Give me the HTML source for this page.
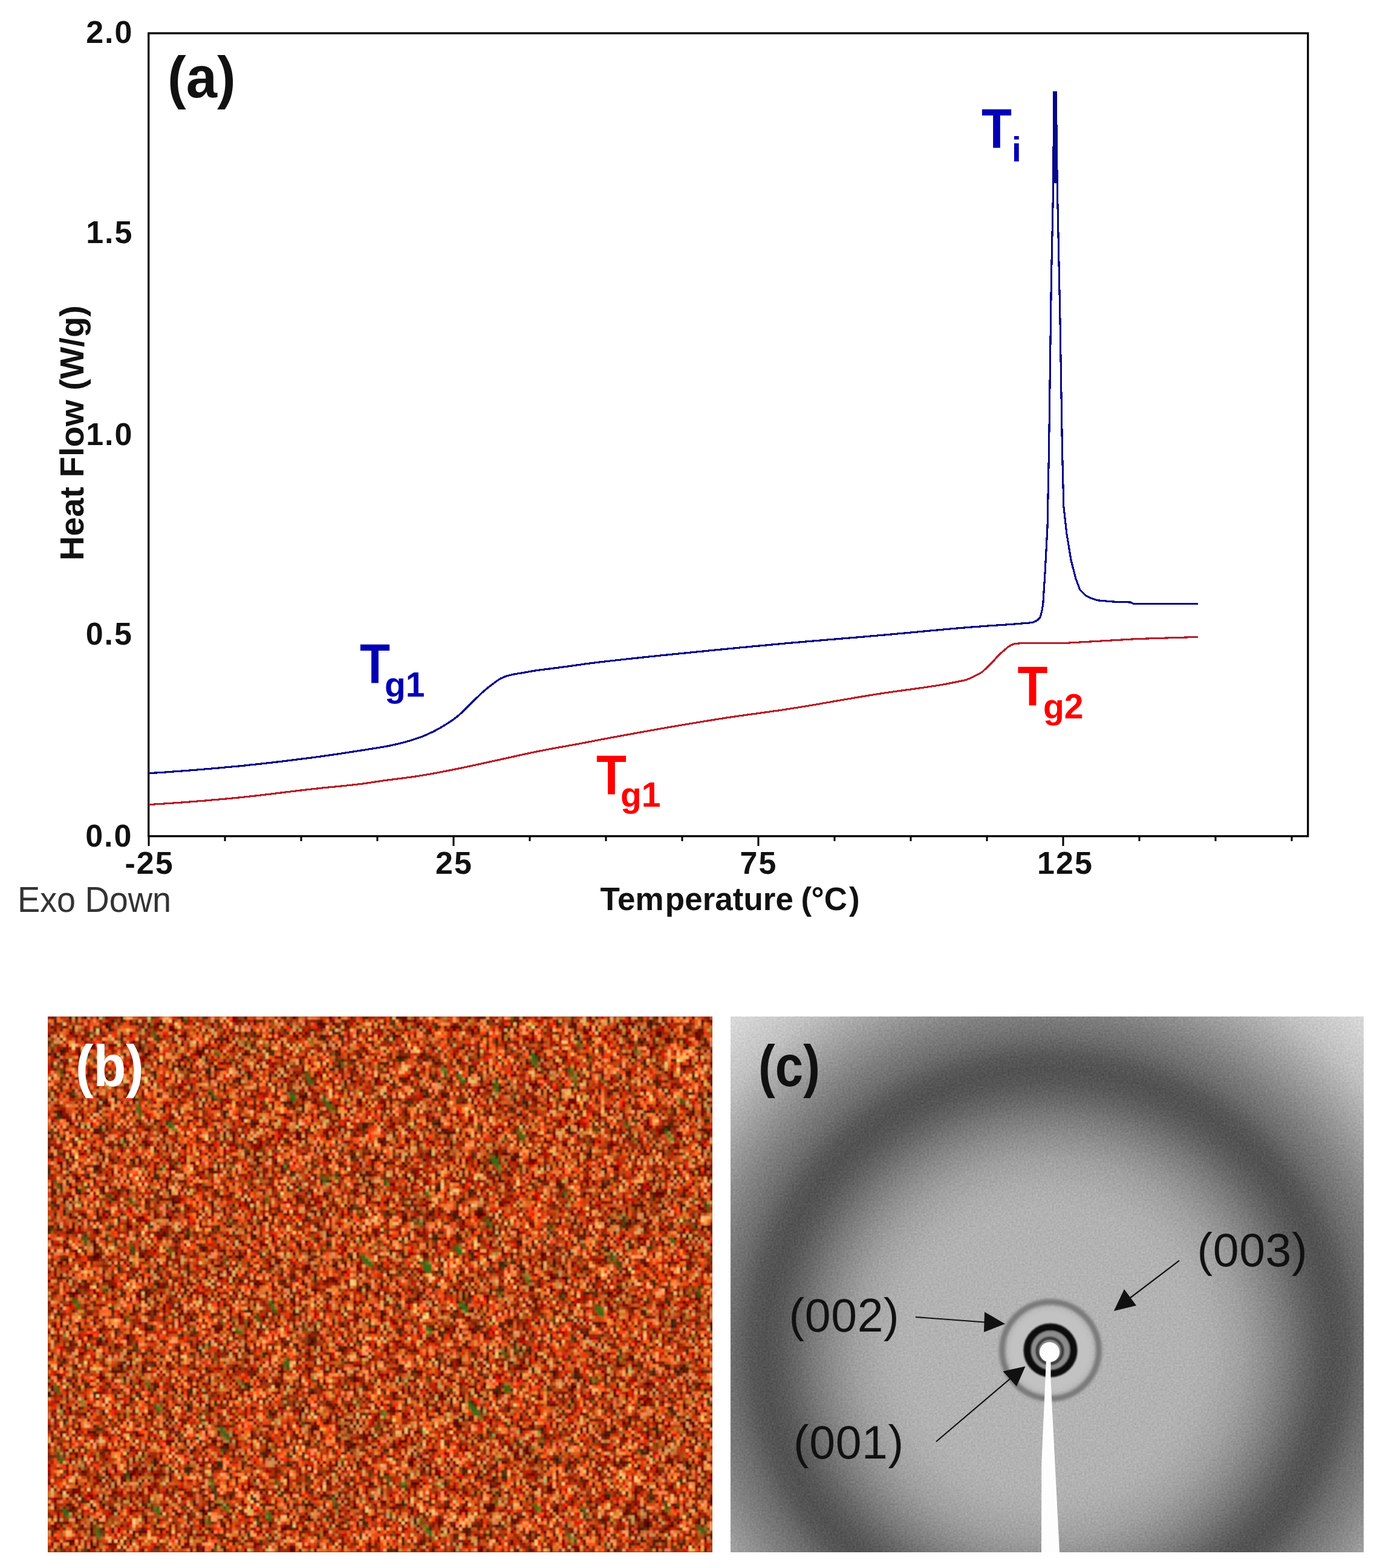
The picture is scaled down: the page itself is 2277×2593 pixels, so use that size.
<!DOCTYPE html>
<html><head><meta charset="utf-8"><title>DSC, POM and XRD figure</title>
<style>
html,body{margin:0;padding:0;background:#fff;}
body{width:2277px;height:2593px;overflow:hidden;position:relative;}
svg{position:absolute;left:0;top:0;display:block;}
.ax{font-family:"Liberation Sans",Arial,sans-serif;font-weight:bold;fill:#111;}
</style></head>
<body>
<svg width="2277" height="2593" viewBox="0 0 2277 2593">
<!-- PANEL A -->
<g id="panelA">
<rect x="245.7" y="55" width="1917.1" height="1327.8" fill="none" stroke="#000" stroke-width="3.3"/>
<path d="M246.0 1382.8V1399 M372.0 1382.8V1391 M498.0 1382.8V1391 M624.0 1382.8V1391 M750.0 1382.8V1399 M876.0 1382.8V1391 M1002.0 1382.8V1391 M1128.0 1382.8V1391 M1254.0 1382.8V1399 M1380.0 1382.8V1391 M1506.0 1382.8V1391 M1632.0 1382.8V1391 M1758.0 1382.8V1399 M1884.0 1382.8V1391 M2010.0 1382.8V1391 M2136.0 1382.8V1391" stroke="#000" stroke-width="3" fill="none"/>
<polyline points="246.5,1278.7 249.5,1278.5 252.5,1278.3 255.5,1278.1 258.5,1278.0 261.5,1277.8 264.5,1277.6 267.5,1277.4 270.5,1277.2 273.5,1277.0 276.5,1276.8 279.5,1276.6 282.5,1276.4 285.5,1276.1 288.5,1275.9 291.5,1275.7 294.5,1275.5 297.5,1275.3 300.5,1275.0 303.5,1274.8 306.5,1274.6 309.5,1274.4 312.5,1274.1 315.5,1273.9 318.5,1273.6 321.5,1273.4 324.5,1273.2 327.5,1272.9 330.5,1272.7 333.5,1272.4 336.5,1272.2 339.5,1271.9 342.5,1271.7 345.5,1271.4 348.5,1271.2 351.5,1270.9 354.5,1270.6 357.5,1270.4 360.5,1270.1 363.5,1269.8 366.5,1269.6 369.5,1269.3 372.5,1269.0 375.5,1268.7 378.5,1268.5 381.5,1268.2 384.5,1267.9 387.5,1267.6 390.5,1267.3 393.5,1267.1 396.5,1266.8 399.5,1266.5 402.5,1266.2 405.5,1265.9 408.5,1265.5 411.5,1265.2 414.5,1264.9 417.5,1264.6 420.5,1264.3 423.5,1264.0 426.5,1263.6 429.5,1263.3 432.5,1263.0 435.5,1262.6 438.5,1262.3 441.5,1262.0 444.5,1261.6 447.5,1261.3 450.5,1260.9 453.5,1260.6 456.5,1260.2 459.5,1259.9 462.5,1259.5 465.5,1259.2 468.5,1258.8 471.5,1258.4 474.5,1258.1 477.5,1257.7 480.5,1257.3 483.5,1257.0 486.5,1256.6 489.5,1256.2 492.5,1255.8 495.5,1255.5 498.5,1255.1 501.5,1254.7 504.5,1254.3 507.5,1253.9 510.5,1253.5 513.5,1253.2 516.5,1252.8 519.5,1252.4 522.5,1252.0 525.5,1251.6 528.5,1251.2 531.5,1250.8 534.5,1250.4 537.5,1249.9 540.5,1249.5 543.5,1249.1 546.5,1248.7 549.5,1248.2 552.5,1247.8 555.5,1247.3 558.5,1246.9 561.5,1246.4 564.5,1246.0 567.5,1245.5 570.5,1245.1 573.5,1244.6 576.5,1244.2 579.5,1243.7 582.5,1243.2 585.5,1242.8 588.5,1242.3 591.5,1241.8 594.5,1241.4 597.5,1240.9 600.5,1240.4 603.5,1240.0 606.5,1239.5 609.5,1239.0 612.5,1238.6 615.5,1238.1 618.5,1237.6 621.5,1237.2 624.5,1236.7 627.5,1236.2 630.5,1235.7 633.5,1235.2 636.5,1234.6 639.5,1234.1 642.5,1233.5 645.5,1232.9 648.5,1232.3 651.5,1231.6 654.5,1230.9 657.5,1230.2 660.5,1229.5 663.5,1228.7 666.5,1228.0 669.5,1227.2 672.5,1226.3 675.5,1225.5 678.5,1224.6 681.5,1223.7 684.5,1222.8 687.5,1221.8 690.5,1220.8 693.5,1219.8 696.5,1218.7 699.5,1217.5 702.5,1216.2 705.5,1215.0 708.5,1213.6 711.5,1212.2 714.5,1210.8 717.5,1209.3 720.5,1207.7 723.5,1206.1 726.5,1204.4 729.5,1202.7 732.5,1200.9 735.5,1199.1 738.5,1197.2 741.5,1195.3 744.5,1193.4 747.5,1191.3 750.5,1189.2 753.5,1186.9 756.5,1184.6 759.5,1182.1 762.5,1179.3 765.5,1176.4 768.5,1173.4 771.5,1170.4 774.5,1167.4 777.5,1164.5 780.5,1161.6 783.5,1158.7 786.5,1155.7 789.5,1152.8 792.5,1149.9 795.5,1147.0 798.5,1144.3 801.5,1141.7 804.5,1139.2 807.5,1136.7 810.5,1134.4 813.5,1132.1 816.5,1129.9 819.5,1127.7 822.5,1125.5 825.5,1123.5 828.5,1121.7 831.5,1120.4 834.5,1119.2 837.5,1118.1 840.5,1117.2 843.5,1116.4 846.5,1115.7 849.5,1115.1 852.5,1114.5 855.5,1114.0 858.5,1113.6 861.5,1113.1 864.5,1112.6 867.5,1112.1 870.5,1111.5 873.5,1111.0 876.5,1110.4 879.5,1109.9 882.5,1109.4 885.5,1108.9 888.5,1108.5 891.5,1108.1 894.5,1107.7 897.5,1107.3 900.5,1107.0 903.5,1106.6 906.5,1106.2 909.5,1105.9 912.5,1105.5 915.5,1105.1 918.5,1104.7 921.5,1104.3 924.5,1103.9 927.5,1103.5 930.5,1103.1 933.5,1102.7 936.5,1102.3 939.5,1101.9 942.5,1101.5 945.5,1101.1 948.5,1100.6 951.5,1100.2 954.5,1099.8 957.5,1099.4 960.5,1099.0 963.5,1098.5 966.5,1098.1 969.5,1097.7 972.5,1097.3 975.5,1097.0 978.5,1096.6 981.5,1096.2 984.5,1095.8 987.5,1095.5 990.5,1095.1 993.5,1094.8 996.5,1094.4 999.5,1094.1 1002.5,1093.7 1005.5,1093.4 1008.5,1093.0 1011.5,1092.7 1014.5,1092.4 1017.5,1092.0 1020.5,1091.7 1023.5,1091.4 1026.5,1091.0 1029.5,1090.7 1032.5,1090.4 1035.5,1090.0 1038.5,1089.7 1041.5,1089.4 1044.5,1089.1 1047.5,1088.7 1050.5,1088.4 1053.5,1088.1 1056.5,1087.8 1059.5,1087.5 1062.5,1087.1 1065.5,1086.8 1068.5,1086.5 1071.5,1086.2 1074.5,1085.9 1077.5,1085.6 1080.5,1085.3 1083.5,1084.9 1086.5,1084.6 1089.5,1084.3 1092.5,1084.0 1095.5,1083.7 1098.5,1083.4 1101.5,1083.1 1104.5,1082.8 1107.5,1082.5 1110.5,1082.2 1113.5,1081.9 1116.5,1081.6 1119.5,1081.3 1122.5,1081.0 1125.5,1080.7 1128.5,1080.4 1131.5,1080.1 1134.5,1079.8 1137.5,1079.5 1140.5,1079.2 1143.5,1078.9 1146.5,1078.6 1149.5,1078.3 1152.5,1078.0 1155.5,1077.7 1158.5,1077.4 1161.5,1077.1 1164.5,1076.8 1167.5,1076.5 1170.5,1076.2 1173.5,1075.9 1176.5,1075.6 1179.5,1075.3 1182.5,1075.0 1185.5,1074.7 1188.5,1074.4 1191.5,1074.1 1194.5,1073.8 1197.5,1073.5 1200.5,1073.3 1203.5,1073.0 1206.5,1072.7 1209.5,1072.4 1212.5,1072.1 1215.5,1071.8 1218.5,1071.5 1221.5,1071.2 1224.5,1070.9 1227.5,1070.6 1230.5,1070.3 1233.5,1070.1 1236.5,1069.8 1239.5,1069.5 1242.5,1069.2 1245.5,1068.9 1248.5,1068.6 1251.5,1068.4 1254.5,1068.1 1257.5,1067.8 1260.5,1067.5 1263.5,1067.2 1266.5,1067.0 1269.5,1066.7 1272.5,1066.4 1275.5,1066.1 1278.5,1065.8 1281.5,1065.6 1284.5,1065.3 1287.5,1065.0 1290.5,1064.8 1293.5,1064.5 1296.5,1064.2 1299.5,1063.9 1302.5,1063.7 1305.5,1063.4 1308.5,1063.1 1311.5,1062.9 1314.5,1062.6 1317.5,1062.4 1320.5,1062.1 1323.5,1061.8 1326.5,1061.6 1329.5,1061.3 1332.5,1061.0 1335.5,1060.8 1338.5,1060.5 1341.5,1060.3 1344.5,1060.0 1347.5,1059.8 1350.5,1059.5 1353.5,1059.3 1356.5,1059.0 1359.5,1058.8 1362.5,1058.5 1365.5,1058.3 1368.5,1058.0 1371.5,1057.7 1374.5,1057.5 1377.5,1057.2 1380.5,1057.0 1383.5,1056.7 1386.5,1056.5 1389.5,1056.2 1392.5,1056.0 1395.5,1055.7 1398.5,1055.5 1401.5,1055.2 1404.5,1055.0 1407.5,1054.7 1410.5,1054.5 1413.5,1054.2 1416.5,1054.0 1419.5,1053.7 1422.5,1053.5 1425.5,1053.2 1428.5,1053.0 1431.5,1052.7 1434.5,1052.5 1437.5,1052.2 1440.5,1051.9 1443.5,1051.7 1446.5,1051.4 1449.5,1051.2 1452.5,1050.9 1455.5,1050.6 1458.5,1050.4 1461.5,1050.1 1464.5,1049.8 1467.5,1049.6 1470.5,1049.3 1473.5,1049.0 1476.5,1048.8 1479.5,1048.5 1482.5,1048.2 1485.5,1047.9 1488.5,1047.7 1491.5,1047.4 1494.5,1047.1 1497.5,1046.8 1500.5,1046.6 1503.5,1046.3 1506.5,1046.0 1509.5,1045.7 1512.5,1045.4 1515.5,1045.2 1518.5,1044.9 1521.5,1044.6 1524.5,1044.3 1527.5,1044.0 1530.5,1043.8 1533.5,1043.5 1536.5,1043.2 1539.5,1042.9 1542.5,1042.6 1545.5,1042.4 1548.5,1042.1 1551.5,1041.8 1554.5,1041.5 1557.5,1041.3 1560.5,1041.0 1563.5,1040.7 1566.5,1040.5 1569.5,1040.2 1572.5,1039.9 1575.5,1039.7 1578.5,1039.4 1581.5,1039.1 1584.5,1038.9 1587.5,1038.6 1590.5,1038.4 1593.5,1038.1 1596.5,1037.9 1599.5,1037.6 1602.5,1037.4 1605.5,1037.1 1608.5,1036.9 1611.5,1036.6 1614.5,1036.4 1617.5,1036.2 1620.5,1036.0 1623.5,1035.7 1626.5,1035.5 1629.5,1035.3 1632.5,1035.1 1635.5,1034.9 1638.5,1034.7 1641.5,1034.5 1644.5,1034.3 1647.5,1034.1 1650.5,1033.9 1653.5,1033.7 1656.5,1033.5 1659.5,1033.3 1662.5,1033.1 1665.5,1032.9 1668.5,1032.6 1671.5,1032.4 1674.5,1032.2 1677.5,1032.0 1680.5,1031.8 1683.5,1031.5 1686.5,1031.3 1689.5,1031.0 1692.5,1030.8 1695.5,1030.6 1698.5,1030.4 1701.5,1030.1 1704.5,1029.7 1707.5,1029.2 1710.5,1028.2 1713.5,1026.8 1716.5,1024.7 1719.5,1021.8 1719.8,1021.5 1722.5,1012.0 1724.7,1000.0 1728.1,946.0 1732.0,872.6 1734.5,745.5 1738.4,461.9 1741.8,302.9 1742.6,152.5 1746.2,152.5 1748.2,302.9 1753.0,530.3 1756.5,745.5 1758.9,838.4 1763.8,882.4 1771.1,926.4 1778.5,955.7 1785.8,975.3 1795.6,985.1 1805.0,989.5 1815.2,992.8 1840.0,995.0 1869.0,996.0 1875.0,998.6 1981.0,998.6" fill="none" stroke="#07078a" stroke-width="3.2" shape-rendering="crispEdges" stroke-linejoin="miter" stroke-miterlimit="20"/>
<rect x="1741.3" y="151" width="6.5" height="152" fill="#07078a"/>
<polyline points="246.5,1330.5 249.5,1330.3 252.5,1330.2 255.5,1330.0 258.5,1329.8 261.5,1329.6 264.5,1329.4 267.5,1329.2 270.5,1329.1 273.5,1328.9 276.5,1328.7 279.5,1328.5 282.5,1328.3 285.5,1328.1 288.5,1327.8 291.5,1327.6 294.5,1327.4 297.5,1327.2 300.5,1327.0 303.5,1326.8 306.5,1326.6 309.5,1326.3 312.5,1326.1 315.5,1325.9 318.5,1325.6 321.5,1325.4 324.5,1325.2 327.5,1324.9 330.5,1324.7 333.5,1324.4 336.5,1324.2 339.5,1324.0 342.5,1323.7 345.5,1323.5 348.5,1323.2 351.5,1322.9 354.5,1322.7 357.5,1322.4 360.5,1322.2 363.5,1321.9 366.5,1321.6 369.5,1321.4 372.5,1321.1 375.5,1320.8 378.5,1320.6 381.5,1320.3 384.5,1320.0 387.5,1319.7 390.5,1319.4 393.5,1319.1 396.5,1318.8 399.5,1318.5 402.5,1318.2 405.5,1317.9 408.5,1317.6 411.5,1317.2 414.5,1316.9 417.5,1316.6 420.5,1316.2 423.5,1315.9 426.5,1315.5 429.5,1315.2 432.5,1314.8 435.5,1314.5 438.5,1314.1 441.5,1313.8 444.5,1313.4 447.5,1313.1 450.5,1312.7 453.5,1312.3 456.5,1312.0 459.5,1311.6 462.5,1311.2 465.5,1310.9 468.5,1310.5 471.5,1310.1 474.5,1309.8 477.5,1309.4 480.5,1309.0 483.5,1308.7 486.5,1308.3 489.5,1307.9 492.5,1307.6 495.5,1307.2 498.5,1306.9 501.5,1306.5 504.5,1306.2 507.5,1305.8 510.5,1305.5 513.5,1305.2 516.5,1304.8 519.5,1304.5 522.5,1304.2 525.5,1303.9 528.5,1303.5 531.5,1303.2 534.5,1302.9 537.5,1302.6 540.5,1302.3 543.5,1302.0 546.5,1301.7 549.5,1301.4 552.5,1301.2 555.5,1300.9 558.5,1300.6 561.5,1300.3 564.5,1300.0 567.5,1299.7 570.5,1299.4 573.5,1299.0 576.5,1298.7 579.5,1298.4 582.5,1298.1 585.5,1297.7 588.5,1297.4 591.5,1297.0 594.5,1296.7 597.5,1296.3 600.5,1295.9 603.5,1295.5 606.5,1295.1 609.5,1294.7 612.5,1294.2 615.5,1293.7 618.5,1293.2 621.5,1292.8 624.5,1292.3 627.5,1291.9 630.5,1291.4 633.5,1291.0 636.5,1290.6 639.5,1290.2 642.5,1289.8 645.5,1289.4 648.5,1289.1 651.5,1288.7 654.5,1288.3 657.5,1287.9 660.5,1287.6 663.5,1287.2 666.5,1286.8 669.5,1286.4 672.5,1286.0 675.5,1285.6 678.5,1285.2 681.5,1284.8 684.5,1284.4 687.5,1283.9 690.5,1283.5 693.5,1283.0 696.5,1282.5 699.5,1282.0 702.5,1281.5 705.5,1281.0 708.5,1280.5 711.5,1280.0 714.5,1279.4 717.5,1278.9 720.5,1278.3 723.5,1277.8 726.5,1277.2 729.5,1276.6 732.5,1276.0 735.5,1275.4 738.5,1274.9 741.5,1274.3 744.5,1273.7 747.5,1273.1 750.5,1272.5 753.5,1271.9 756.5,1271.3 759.5,1270.7 762.5,1270.1 765.5,1269.5 768.5,1268.8 771.5,1268.2 774.5,1267.6 777.5,1266.9 780.5,1266.3 783.5,1265.6 786.5,1265.0 789.5,1264.3 792.5,1263.7 795.5,1263.0 798.5,1262.3 801.5,1261.7 804.5,1261.0 807.5,1260.3 810.5,1259.7 813.5,1259.0 816.5,1258.4 819.5,1257.7 822.5,1257.1 825.5,1256.4 828.5,1255.8 831.5,1255.1 834.5,1254.4 837.5,1253.8 840.5,1253.1 843.5,1252.4 846.5,1251.8 849.5,1251.1 852.5,1250.4 855.5,1249.8 858.5,1249.1 861.5,1248.5 864.5,1247.8 867.5,1247.1 870.5,1246.5 873.5,1245.9 876.5,1245.2 879.5,1244.6 882.5,1244.0 885.5,1243.3 888.5,1242.7 891.5,1242.1 894.5,1241.5 897.5,1241.0 900.5,1240.4 903.5,1239.8 906.5,1239.2 909.5,1238.7 912.5,1238.1 915.5,1237.6 918.5,1237.0 921.5,1236.5 924.5,1235.9 927.5,1235.4 930.5,1234.9 933.5,1234.3 936.5,1233.8 939.5,1233.2 942.5,1232.7 945.5,1232.2 948.5,1231.6 951.5,1231.1 954.5,1230.5 957.5,1230.0 960.5,1229.4 963.5,1228.8 966.5,1228.3 969.5,1227.7 972.5,1227.1 975.5,1226.6 978.5,1226.0 981.5,1225.4 984.5,1224.8 987.5,1224.2 990.5,1223.6 993.5,1223.0 996.5,1222.5 999.5,1221.9 1002.5,1221.3 1005.5,1220.8 1008.5,1220.2 1011.5,1219.7 1014.5,1219.1 1017.5,1218.6 1020.5,1218.0 1023.5,1217.5 1026.5,1216.9 1029.5,1216.4 1032.5,1215.8 1035.5,1215.3 1038.5,1214.7 1041.5,1214.2 1044.5,1213.6 1047.5,1213.1 1050.5,1212.5 1053.5,1212.0 1056.5,1211.5 1059.5,1210.9 1062.5,1210.4 1065.5,1209.8 1068.5,1209.3 1071.5,1208.8 1074.5,1208.2 1077.5,1207.7 1080.5,1207.2 1083.5,1206.6 1086.5,1206.1 1089.5,1205.6 1092.5,1205.0 1095.5,1204.5 1098.5,1204.0 1101.5,1203.5 1104.5,1202.9 1107.5,1202.4 1110.5,1201.9 1113.5,1201.4 1116.5,1200.9 1119.5,1200.4 1122.5,1199.8 1125.5,1199.3 1128.5,1198.8 1131.5,1198.3 1134.5,1197.8 1137.5,1197.3 1140.5,1196.8 1143.5,1196.3 1146.5,1195.8 1149.5,1195.3 1152.5,1194.8 1155.5,1194.3 1158.5,1193.8 1161.5,1193.3 1164.5,1192.8 1167.5,1192.3 1170.5,1191.9 1173.5,1191.4 1176.5,1190.9 1179.5,1190.4 1182.5,1189.9 1185.5,1189.5 1188.5,1189.0 1191.5,1188.5 1194.5,1188.1 1197.5,1187.6 1200.5,1187.1 1203.5,1186.7 1206.5,1186.2 1209.5,1185.8 1212.5,1185.3 1215.5,1184.9 1218.5,1184.5 1221.5,1184.0 1224.5,1183.6 1227.5,1183.2 1230.5,1182.8 1233.5,1182.3 1236.5,1181.9 1239.5,1181.5 1242.5,1181.1 1245.5,1180.7 1248.5,1180.3 1251.5,1179.9 1254.5,1179.5 1257.5,1179.1 1260.5,1178.6 1263.5,1178.2 1266.5,1177.8 1269.5,1177.4 1272.5,1177.0 1275.5,1176.6 1278.5,1176.1 1281.5,1175.7 1284.5,1175.3 1287.5,1174.9 1290.5,1174.4 1293.5,1174.0 1296.5,1173.5 1299.5,1173.1 1302.5,1172.6 1305.5,1172.2 1308.5,1171.7 1311.5,1171.2 1314.5,1170.7 1317.5,1170.3 1320.5,1169.8 1323.5,1169.3 1326.5,1168.8 1329.5,1168.3 1332.5,1167.8 1335.5,1167.3 1338.5,1166.8 1341.5,1166.3 1344.5,1165.8 1347.5,1165.3 1350.5,1164.8 1353.5,1164.3 1356.5,1163.8 1359.5,1163.2 1362.5,1162.7 1365.5,1162.2 1368.5,1161.7 1371.5,1161.2 1374.5,1160.6 1377.5,1160.1 1380.5,1159.6 1383.5,1159.1 1386.5,1158.6 1389.5,1158.0 1392.5,1157.5 1395.5,1157.0 1398.5,1156.5 1401.5,1156.0 1404.5,1155.5 1407.5,1155.0 1410.5,1154.4 1413.5,1153.9 1416.5,1153.4 1419.5,1152.9 1422.5,1152.4 1425.5,1151.9 1428.5,1151.4 1431.5,1150.9 1434.5,1150.4 1437.5,1149.9 1440.5,1149.4 1443.5,1149.0 1446.5,1148.5 1449.5,1148.0 1452.5,1147.5 1455.5,1147.1 1458.5,1146.6 1461.5,1146.2 1464.5,1145.7 1467.5,1145.3 1470.5,1144.8 1473.5,1144.4 1476.5,1144.0 1479.5,1143.6 1482.5,1143.2 1485.5,1142.7 1488.5,1142.3 1491.5,1141.9 1494.5,1141.5 1497.5,1141.1 1500.5,1140.7 1503.5,1140.3 1506.5,1139.9 1509.5,1139.5 1512.5,1139.1 1515.5,1138.7 1518.5,1138.2 1521.5,1137.8 1524.5,1137.4 1527.5,1137.0 1530.5,1136.5 1533.5,1136.1 1536.5,1135.7 1539.5,1135.2 1542.5,1134.7 1545.5,1134.3 1548.5,1133.8 1551.5,1133.3 1554.5,1132.8 1557.5,1132.3 1560.5,1131.8 1563.5,1131.3 1566.5,1130.7 1569.5,1130.1 1572.5,1129.5 1575.5,1128.9 1578.5,1128.3 1581.5,1127.7 1584.5,1127.1 1587.5,1126.6 1590.5,1125.9 1593.5,1125.3 1596.5,1124.5 1599.5,1123.6 1602.5,1122.3 1605.5,1120.8 1608.5,1119.3 1611.5,1117.8 1614.5,1116.5 1617.5,1115.1 1620.5,1113.5 1623.5,1111.6 1626.5,1109.2 1629.5,1106.3 1632.5,1103.4 1635.5,1100.6 1638.5,1097.6 1641.5,1094.5 1644.5,1091.3 1647.5,1087.8 1650.5,1084.4 1653.5,1081.5 1656.5,1078.9 1659.5,1076.4 1662.5,1073.7 1665.5,1071.0 1668.5,1068.8 1671.5,1067.2 1674.5,1065.8 1677.5,1064.8 1680.5,1064.4 1683.5,1064.1 1686.5,1063.9 1689.5,1063.8 1692.5,1063.8 1695.5,1063.7 1698.5,1063.7 1701.5,1063.7 1704.5,1063.7 1707.5,1063.7 1710.5,1063.6 1713.5,1063.6 1716.5,1063.6 1719.5,1063.6 1722.5,1063.6 1725.5,1063.6 1728.5,1063.5 1731.5,1063.5 1734.5,1063.5 1737.5,1063.5 1740.5,1063.5 1743.5,1063.5 1746.5,1063.5 1749.5,1063.5 1752.5,1063.5 1755.5,1063.5 1758.5,1063.5 1760.0,1063.5 1881.0,1056.5 1981.0,1053.4" fill="none" stroke="#b8202a" stroke-width="3.2" shape-rendering="crispEdges"/>
</g>
<g class="ax" font-size="52" letter-spacing="2" text-anchor="end">
<text x="220.5" y="71">2.0</text>
<text x="220.5" y="401.5">1.5</text>
<text x="220.5" y="736">1.0</text>
<text x="220" y="1065.6">0.5</text>
<text x="219.5" y="1399.6">0.0</text>
</g>
<g class="ax" font-size="52" letter-spacing="2" text-anchor="middle">
<text x="247" y="1444.5">-25</text>
<text x="751" y="1445">25</text>
<text x="1254.5" y="1444.5">75</text>
<text x="1761.5" y="1445">125</text>
</g>
<text class="ax" y="1505" font-size="53"><tspan x="992.5">Tem</tspan><tspan x="1099.8">perature</tspan> <tspan x="1324.5">(</tspan><tspan x="1341.5">°C</tspan><tspan x="1404">)</tspan></text>
<text class="ax" transform="translate(137.5,716) rotate(-90)" font-size="56.3" text-anchor="middle">Heat Flow (W/g)</text>
<text transform="translate(29 1508) scale(0.953 1)" font-family="Liberation Sans, Arial, sans-serif" font-size="58.5" fill="#333">Exo Down</text>
<text transform="translate(277 160.5) scale(0.96 1)" class="ax" font-size="96" fill="#000">(a)</text>
<g font-family="Liberation Sans, Arial, sans-serif" font-weight="bold">
<g fill="#0000b4">
<text transform="translate(1623 244.5) scale(0.885 1)" font-size="92.5">T</text>
<text x="1673" y="267" font-size="57">i</text>
<text transform="translate(595 1129.5) scale(0.885 1)" font-size="92.5">T</text>
<text x="636" y="1152" font-size="57">g1</text>
</g>
<g fill="#ff0000">
<text transform="translate(986 1314) scale(0.885 1)" font-size="92.5">T</text>
<text x="1026" y="1334" font-size="57">g1</text>
<text transform="translate(1682.5 1166.5) scale(0.885 1)" font-size="92.5">T</text>
<text x="1725" y="1188" font-size="57">g2</text>
</g>
</g>
<!-- PANEL BC -->
<defs>
<filter id="pom" x="0" y="0" width="1" height="1" filterUnits="objectBoundingBox" color-interpolation-filters="sRGB">
<feTurbulence type="fractalNoise" baseFrequency="0.24 0.055" numOctaves="3" seed="11" result="n"/>
<feComponentTransfer in="n" result="q">
<feFuncR type="linear" slope="2.6" intercept="-0.8"/>
<feFuncG type="linear" slope="2.4" intercept="-0.7"/>
<feFuncB type="linear" slope="2.4" intercept="-0.7"/>
<feFuncA type="table" tableValues="1 1"/>
</feComponentTransfer>
<feColorMatrix in="q" type="matrix" values="1 0 0 0 0  1 0 0 0 0  1 0 0 0 0  0 0 0 0 1" result="lll"/>
<feComponentTransfer in="lll" result="pal">
<feFuncR type="table" tableValues="0.30 0.38 0.50 0.68 0.84 0.93 0.97 0.99"/>
<feFuncG type="table" tableValues="0.05 0.07 0.11 0.16 0.25 0.40 0.55 0.66"/>
<feFuncB type="table" tableValues="0.00 0.01 0.02 0.03 0.06 0.13 0.26 0.40"/>
</feComponentTransfer>
<feColorMatrix in="q" type="matrix" values="0 -1 0 0 1  0 1 0 0 0  0 0.4 0 0 0.3  0 0 0 0 1" result="hh"/>
<feComposite in="pal" in2="hh" operator="arithmetic" k1="0" k2="1" k3="0.24" k4="-0.12" result="c1"/>
<feTurbulence type="fractalNoise" baseFrequency="0.04 0.011" numOctaves="2" seed="5" result="n2"/>
<feColorMatrix in="n2" type="matrix" values="1.6 0 0 0 -0.3  1.6 0 0 0 -0.3  1.6 0 0 0 -0.3  0 0 0 0 1" result="m"/>
<feComposite in="c1" in2="m" operator="arithmetic" k1="0.4" k2="0.8" k3="0" k4="0" result="c2"/>
<feTurbulence type="fractalNoise" baseFrequency="0.05 0.02" numOctaves="2" seed="23" result="n3"/>
<feColorMatrix in="n3" type="matrix" values="0 0 0 0 0.22  0 0 0 0 0.42  0 0 0 0 0.08  8 0 0 0 -5.7" result="g"/>
<feComposite in="g" in2="c2" operator="over"/>
</filter>
<filter id="pix" x="79" y="1681" width="1099" height="886" filterUnits="userSpaceOnUse" primitiveUnits="userSpaceOnUse">
<feFlood x="81" y="1683" width="1" height="1" flood-color="#000"/>
<feComposite x="79" y="1681" width="5" height="5"/>
<feTile result="a"/>
<feComposite in="SourceGraphic" in2="a" operator="in"/>
<feMorphology operator="dilate" radius="2"/>
<feGaussianBlur stdDeviation="0.8"/>
</filter>
<radialGradient id="halo" gradientUnits="userSpaceOnUse" cx="0" cy="0" r="1.8" gradientTransform="translate(1735 2230) scale(470 462)">
<stop offset="0.0000" stop-color="#b5b5b5"/>
<stop offset="0.2778" stop-color="#b2b2b2"/>
<stop offset="0.3222" stop-color="#adadad"/>
<stop offset="0.3778" stop-color="#a0a0a0"/>
<stop offset="0.4222" stop-color="#8e8e8e"/>
<stop offset="0.4667" stop-color="#787878"/>
<stop offset="0.4944" stop-color="#686868"/>
<stop offset="0.5278" stop-color="#585858"/>
<stop offset="0.5556" stop-color="#525252"/>
<stop offset="0.5833" stop-color="#585858"/>
<stop offset="0.6222" stop-color="#6e6e6e"/>
<stop offset="0.6611" stop-color="#7e7e7e"/>
<stop offset="0.7222" stop-color="#9a9a9a"/>
<stop offset="0.8056" stop-color="#c0c0c0"/>
<stop offset="0.8889" stop-color="#d6d6d6"/>
<stop offset="1.0000" stop-color="#e2e2e2"/>
</radialGradient>
<filter id="bl2" x="-50%" y="-50%" width="200%" height="200%"><feGaussianBlur stdDeviation="2"/></filter>
<filter id="bl4" x="-50%" y="-50%" width="200%" height="200%"><feGaussianBlur stdDeviation="5"/></filter>
<filter id="bl1" x="-50%" y="-50%" width="200%" height="200%"><feGaussianBlur stdDeviation="1.2"/></filter>
<filter id="grain" x="0" y="0" width="1" height="1" filterUnits="objectBoundingBox" color-interpolation-filters="sRGB">
<feTurbulence type="fractalNoise" baseFrequency="0.3" numOctaves="2" seed="4" result="gn"/>
<feColorMatrix in="gn" type="matrix" values="1 0 0 0 0  1 0 0 0 0  1 0 0 0 0  0 0 0 0 1" result="gg"/>
<feComposite in="SourceGraphic" in2="gg" operator="arithmetic" k1="0" k2="1" k3="0.14" k4="-0.07"/>
</filter>
<clipPath id="clipB"><rect x="79" y="1681" width="1099" height="886"/></clipPath>
<clipPath id="clipC"><rect x="1208" y="1681" width="1047" height="886"/></clipPath>
</defs>
<!-- PANEL B -->
<g clip-path="url(#clipB)">
<rect x="79" y="1681" width="1099" height="886" fill="#8a3a1c"/>
<g filter="url(#pix)"><g transform="rotate(-28 628 2124)">
<rect x="-300" y="1300" width="1900" height="1700" filter="url(#pom)"/>
</g></g>
</g>
<text transform="translate(125 1796) scale(0.92 1)" font-family="Liberation Sans, Arial, sans-serif" font-weight="bold" font-size="96" fill="#fff">(b)</text>
<!-- PANEL C -->
<g clip-path="url(#clipC)">
<rect x="1208" y="1681" width="1047" height="886" fill="url(#halo)" filter="url(#grain)"/>
<circle cx="1737" cy="2233" r="70" fill="#c2c2c2" filter="url(#bl4)"/>
<circle cx="1737" cy="2233" r="80" fill="none" stroke="#7a7a7a" stroke-width="10" filter="url(#bl2)"/>
<circle cx="1736.5" cy="2234" r="33" fill="#8c8c8c"/>
<circle cx="1736" cy="2234" r="21" fill="none" stroke="#3a3a3a" stroke-width="5" filter="url(#bl1)"/>
<circle cx="1737" cy="2233" r="38.5" fill="none" stroke="#0c0c0c" stroke-width="12" filter="url(#bl1)"/>
<path d="M1730 2248 L1737.5 2248 L1737.5 2282 L1752 2567 L1722 2567 L1722.3 2420 Z" fill="#fdfdfd"/>
<circle cx="1735.5" cy="2236" r="16.5" fill="#fdfdfd"/>
</g>
<g font-family="Liberation Sans, Arial, sans-serif" font-size="77" letter-spacing="0.6" fill="#111">
<text x="1979.5" y="2093.5">(003)</text>
<text x="1304.6" y="2202.3">(002)</text>
<text x="1312" y="2412.3">(001)</text>
</g>
<text transform="translate(1254 1796) scale(0.87 1)" font-family="Liberation Sans, Arial, sans-serif" font-weight="bold" font-size="96" fill="#111">(c)</text>
<g fill="#111" stroke="#111">
<line x1="1950" y1="2084.6" x2="1860" y2="2153" stroke-width="2.2"/>
<path d="M1841.8 2167.9 L1859 2132 L1879 2159 Z" stroke="none"/>
<line x1="1514" y1="2178" x2="1635" y2="2187" stroke-width="2.2"/>
<path d="M1662 2189.2 L1628 2169.4 L1627 2203 Z" stroke="none"/>
<line x1="1548" y1="2384" x2="1675" y2="2276" stroke-width="2.2"/>
<path d="M1695.5 2259.4 L1658.5 2267.7 L1681 2292.7 Z" stroke="none"/>
</g>

</svg>
</body></html>
